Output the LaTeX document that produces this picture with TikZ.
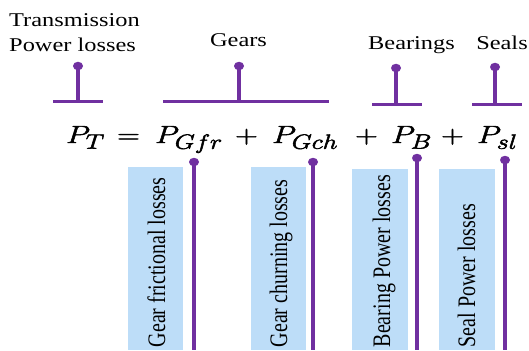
\documentclass[tikz,border=0pt]{standalone}
\usepackage{fontspec}
\setmainfont{Liberation Serif}
\usetikzlibrary{shapes.geometric}
\definecolor{lpurple}{RGB}{112,48,160}
\definecolor{lblue}{RGB}{189,221,248}
\newcommand{\hstr}[1]{\scalebox{1.25}[1]{#1}}
\newcommand{\vstr}[1]{\scalebox{1}[1.26]{#1}}
\newcommand{\fbold}[1]{\special{pdf:literal direct 2 Tr 0.45 w}#1\special{pdf:literal direct 0 Tr}}
\begin{document}
\begin{tikzpicture}[x=1pt,y=-1pt,
  conn/.style={draw=lpurple, line width=3.4pt},
  bar/.style={draw=lpurple, line width=3pt},
  dotn/.style={ellipse, fill=lpurple, inner sep=0pt, minimum width=10pt, minimum height=8.5pt},
  lbl/.style={inner sep=0pt, font=\fontsize{19.5}{24.7}\selectfont},
  eqn/.style={inner sep=0pt, font=\fontsize{29}{32}\selectfont},
  box/.style={fill=lblue, inner sep=0pt, anchor=north west},
  rot/.style={inner sep=0pt, rotate=90, anchor=base west, font=\fontsize{20}{24}\selectfont}
]
\useasboundingbox (0,0) rectangle (529,350);

% top labels
\node[lbl, anchor=base west] (ltr) at (9,27) {\hstr{\begin{tabular}[t]{@{}l@{}}Transmission\\Power losses\end{tabular}}};
\node[lbl, anchor=base] (lgears) at (238.5,47) {\hstr{Gears}};
\node[lbl, anchor=base] (lbear) at (411.5,50) {\hstr{Bearings}};
\node[lbl, anchor=base] (lseal) at (502,50) {\hstr{Seals}};

% top brackets
\node[dotn] (dT) at (78,66) {};
\coordinate (mT) at (78,101.5);
\coordinate (lT) at (53,101.5); \coordinate (rT) at (103,101.5);
\draw[conn] (dT.center) -- (mT);
\draw[bar] (lT) -- (rT);

\node[dotn] (dG) at (239,66) {};
\coordinate (mG) at (239,101.5);
\coordinate (lG) at (163,101.5); \coordinate (rG) at (329,101.5);
\draw[conn] (dG.center) -- (mG);
\draw[bar] (lG) -- (rG);

\node[dotn] (dB) at (396,68) {};
\coordinate (mB) at (396,104.5);
\coordinate (lB) at (372,104.5); \coordinate (rB) at (422,104.5);
\draw[conn] (dB.center) -- (mB);
\draw[bar] (lB) -- (rB);

\node[dotn] (dS) at (495,67) {};
\coordinate (mS) at (495,104.5);
\coordinate (lS) at (472,104.5); \coordinate (rS) at (522,104.5);
\draw[conn] (dS.center) -- (mS);
\draw[bar] (lS) -- (rS);

% equation
\node[eqn, anchor=base west] (ePT) at (66,143) {\fbold{\hstr{$P_T$}}};
\node[eqn, anchor=base] (eEq) at (128.5,143) {\fbold{\hstr{$=$}}};
\node[eqn, anchor=base west] (eGfr) at (155,143) {\fbold{\hstr{$P_{Gfr}$}}};
\node[eqn, anchor=base] (ePl1) at (246.5,143) {\fbold{\hstr{$+$}}};
\node[eqn, anchor=base west] (eGch) at (272,143) {\fbold{\hstr{$P_{Gch}$}}};
\node[eqn, anchor=base] (ePl2) at (366.5,143) {\fbold{\hstr{$+$}}};
\node[eqn, anchor=base west] (eB) at (391,143) {\fbold{\hstr{$P_B$}}};
\node[eqn, anchor=base] (ePl3) at (452.5,143) {\fbold{\hstr{$+$}}};
\node[eqn, anchor=base west] (esl) at (477,143) {\fbold{\hstr{$P_{sl}$}}};

% boxes
\node[box, minimum width=55pt, minimum height=183pt] (b1) at (128,167) {};
\node[box, minimum width=55pt, minimum height=183pt] (b2) at (251,167) {};
\node[box, minimum width=56pt, minimum height=181pt] (b3) at (352,169) {};
\node[box, minimum width=56pt, minimum height=181pt] (b4) at (439,169) {};

\node[rot] (t1) at (165,347.5) {\vstr{Gear frictional losses}};
\node[rot] (t2) at (287,347.5) {\vstr{Gear churning losses}};
\node[rot] (t3) at (390,347.5) {\vstr{Bearing Power losses}};
\node[rot] (t4) at (475,347.5) {\vstr{Seal Power losses}};

% bottom connectors
\node[dotn] (d1) at (194,162) {};
\coordinate (e1) at (194,350);
\draw[conn] (d1.center) -- (e1);
\node[dotn] (d2) at (313,162) {};
\coordinate (e2) at (313,350);
\draw[conn] (d2.center) -- (e2);
\node[dotn] (d3) at (417,158) {};
\coordinate (e3) at (417,350);
\draw[conn] (d3.center) -- (e3);
\node[dotn] (d4) at (505,160) {};
\coordinate (e4) at (505,350);
\draw[conn] (d4.center) -- (e4);
\end{tikzpicture}
\end{document}
